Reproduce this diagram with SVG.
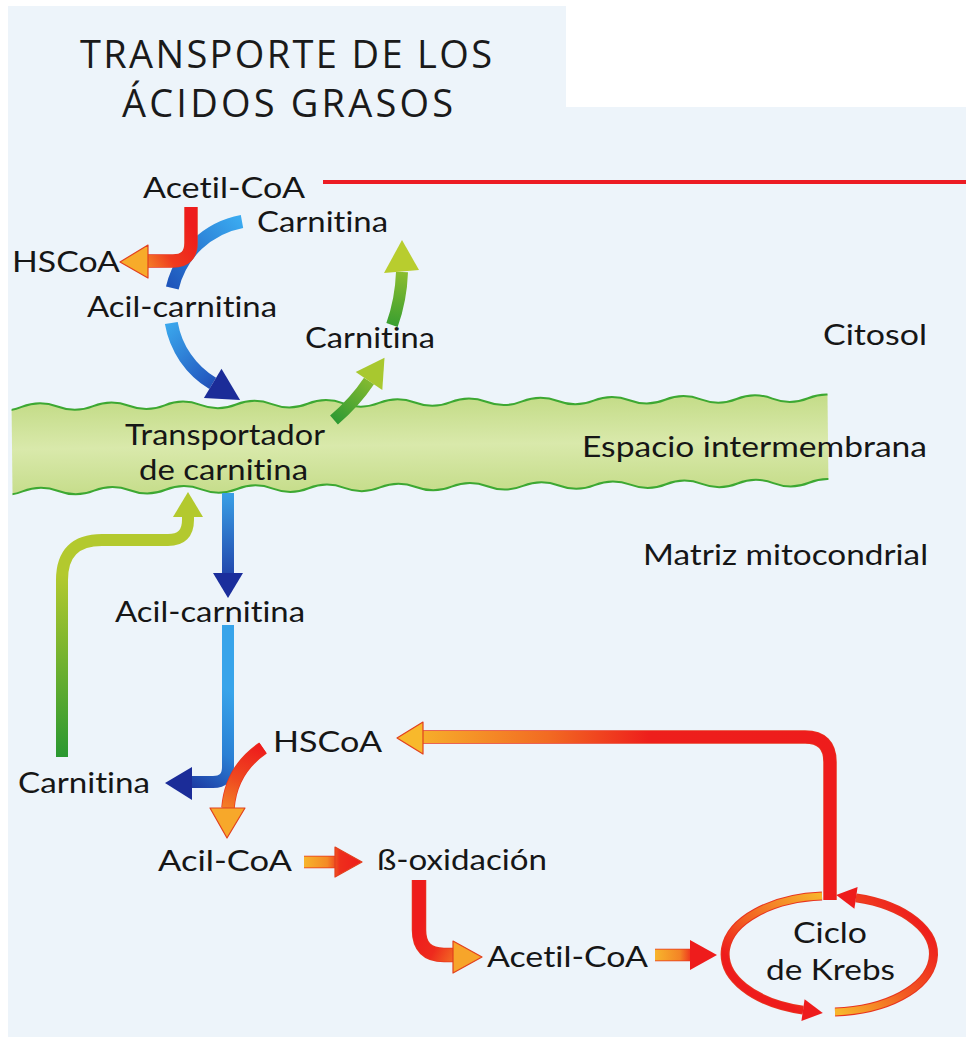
<svg xmlns="http://www.w3.org/2000/svg" width="966" height="1041" viewBox="0 0 966 1041">
<style>
.lbl{font-family:Lato,"Open Sans","Liberation Sans",sans-serif;font-size:29px;fill:#161616;font-variant-ligatures:none;font-feature-settings:"liga" 0,"clig" 0}
.title{font-family:"Open Sans","Liberation Sans",sans-serif;font-size:38px;fill:#1a1a1a}
.shaft{fill:none;stroke-linecap:butt;stroke-linejoin:round}
.rim{fill:none;stroke:#e8341e;stroke-linejoin:round}
.headO{stroke:#e2401e;stroke-width:1.2;stroke-linejoin:round}
</style>
<defs>
<linearGradient id="gA1" gradientUnits="userSpaceOnUse" x1="191" y1="225" x2="125" y2="262"><stop offset="0" stop-color="#ee1c1c"/><stop offset="0.45" stop-color="#ef3a1e"/><stop offset="1" stop-color="#f7ae2b"/></linearGradient>
<linearGradient id="gBU" gradientUnits="userSpaceOnUse" x1="242" y1="222" x2="172" y2="288"><stop offset="0" stop-color="#3aaaf0"/><stop offset="1" stop-color="#1e55bb"/></linearGradient>
<linearGradient id="gBL" gradientUnits="userSpaceOnUse" x1="171" y1="323" x2="240" y2="400"><stop offset="0" stop-color="#3aa6ec"/><stop offset="0.6" stop-color="#2560c4"/><stop offset="1" stop-color="#1b2c98"/></linearGradient>
<linearGradient id="gG1" gradientUnits="userSpaceOnUse" x1="334" y1="420" x2="384" y2="357"><stop offset="0" stop-color="#2e9a33"/><stop offset="1" stop-color="#b0ca2e"/></linearGradient>
<linearGradient id="gG2" gradientUnits="userSpaceOnUse" x1="392" y1="325" x2="402" y2="242"><stop offset="0" stop-color="#3a9f30"/><stop offset="1" stop-color="#b8cd2e"/></linearGradient>
<linearGradient id="gB2" gradientUnits="userSpaceOnUse" x1="228" y1="493" x2="228" y2="598"><stop offset="0" stop-color="#3aa0e6"/><stop offset="1" stop-color="#1b2e9c"/></linearGradient>
<linearGradient id="gB3" gradientUnits="userSpaceOnUse" x1="228" y1="690" x2="166" y2="782"><stop offset="0" stop-color="#38a4ea"/><stop offset="0.5" stop-color="#2a7fd4"/><stop offset="1" stop-color="#1b2c98"/></linearGradient>
<linearGradient id="gG3" gradientUnits="userSpaceOnUse" x1="62" y1="757" x2="62" y2="575"><stop offset="0" stop-color="#2a9830"/><stop offset="1" stop-color="#b3c92e"/></linearGradient>
<linearGradient id="gR7" gradientUnits="userSpaceOnUse" x1="263" y1="748" x2="227" y2="838"><stop offset="0" stop-color="#ee1c1c"/><stop offset="0.4" stop-color="#ef4a20"/><stop offset="1" stop-color="#f7ae2b"/></linearGradient>
<linearGradient id="gR8" gradientUnits="userSpaceOnUse" x1="304" y1="0" x2="362" y2="0"><stop offset="0" stop-color="#f7b52c"/><stop offset="0.4" stop-color="#f48a26"/><stop offset="0.62" stop-color="#ee2e1c"/><stop offset="1" stop-color="#ee1c1c"/></linearGradient>
<linearGradient id="gR9" gradientUnits="userSpaceOnUse" x1="419" y1="925" x2="482" y2="957"><stop offset="0" stop-color="#ee1c1c"/><stop offset="0.35" stop-color="#ee2a1d"/><stop offset="1" stop-color="#f7ae2b"/></linearGradient>
<linearGradient id="gR10" gradientUnits="userSpaceOnUse" x1="655" y1="0" x2="717" y2="0"><stop offset="0" stop-color="#f7b52c"/><stop offset="0.4" stop-color="#f48426"/><stop offset="0.6" stop-color="#ee2c1c"/><stop offset="1" stop-color="#ee1c1c"/></linearGradient>
<linearGradient id="gR11" gradientUnits="userSpaceOnUse" x1="831" y1="0" x2="397" y2="0"><stop offset="0" stop-color="#ee1c1c"/><stop offset="0.42" stop-color="#ee1f1c"/><stop offset="0.65" stop-color="#f26a22"/><stop offset="1" stop-color="#f8bb2c"/></linearGradient>
<linearGradient id="gKA" gradientUnits="userSpaceOnUse" x1="822" y1="896" x2="740" y2="1000"><stop offset="0" stop-color="#f7b52c"/><stop offset="0.5" stop-color="#f26022"/><stop offset="0.8" stop-color="#ee1c1c"/></linearGradient>
<linearGradient id="gKB" gradientUnits="userSpaceOnUse" x1="840" y1="1012" x2="930" y2="930"><stop offset="0" stop-color="#f7b52c"/><stop offset="0.5" stop-color="#f25a22"/><stop offset="1" stop-color="#ee1c1c"/></linearGradient>
<linearGradient id="gMem" x1="0" y1="0" x2="0" y2="1"><stop offset="0" stop-color="#c4dc88"/><stop offset="0.5" stop-color="#d9e9ab"/><stop offset="1" stop-color="#c6dd8b"/></linearGradient>
<clipPath id="memClip"><rect x="12" y="380" width="816" height="130"/></clipPath>
</defs>

<rect x="0" y="0" width="966" height="1041" fill="#ffffff"/>
<rect x="8" y="6" width="958" height="1031" fill="#edf4fa"/>
<rect x="566" y="0" width="400" height="107" fill="#ffffff"/>

<g id="title">
<text class="title" x="80" y="68" textLength="412" lengthAdjust="spacing">TRANSPORTE DE LOS</text>
<text class="title" x="122" y="117" textLength="331" lengthAdjust="spacing">ÁCIDOS GRASOS</text>
</g>

<g id="membrane" transform="rotate(-0.63 420 444)">
<g clip-path="url(#memClip)">
<path fill="url(#gMem)" d="M -49.4 402.5 Q -31.5 395.5 -13.65 402.5 T 22.1 402.5 T 57.85 402.5 T 93.6 402.5 T 129.35 402.5 T 165.1 402.5 T 200.85 402.5 T 236.6 402.5 T 272.35 402.5 T 308.1 402.5 T 343.85 402.5 T 379.6 402.5 T 415.35 402.5 T 451.1 402.5 T 486.85 402.5 T 522.6 402.5 T 558.35 402.5 T 594.1 402.5 T 629.85 402.5 T 665.6 402.5 T 701.35 402.5 T 737.1 402.5 T 772.85 402.5 T 808.6 402.5 T 844.35 402.5 L 844.35 487 Q 826.5 480 808.6 487 T 772.85 487 T 737.1 487 T 701.35 487 T 665.6 487 T 629.85 487 T 594.1 487 T 558.35 487 T 522.6 487 T 486.85 487 T 451.1 487 T 415.35 487 T 379.6 487 T 343.85 487 T 308.1 487 T 272.35 487 T 236.6 487 T 200.85 487 T 165.1 487 T 129.35 487 T 93.6 487 T 57.85 487 T 22.1 487 T -13.65 487 T -49.4 487 Z"/>
<path fill="none" stroke="#3da832" stroke-width="2" d="M -49.4 402.5 Q -31.5 395.5 -13.65 402.5 T 22.1 402.5 T 57.85 402.5 T 93.6 402.5 T 129.35 402.5 T 165.1 402.5 T 200.85 402.5 T 236.6 402.5 T 272.35 402.5 T 308.1 402.5 T 343.85 402.5 T 379.6 402.5 T 415.35 402.5 T 451.1 402.5 T 486.85 402.5 T 522.6 402.5 T 558.35 402.5 T 594.1 402.5 T 629.85 402.5 T 665.6 402.5 T 701.35 402.5 T 737.1 402.5 T 772.85 402.5 T 808.6 402.5 T 844.35 402.5"/>
<path fill="none" stroke="#3da832" stroke-width="2" d="M -49.4 487 Q -31.5 480 -13.65 487 T 22.1 487 T 57.85 487 T 93.6 487 T 129.35 487 T 165.1 487 T 200.85 487 T 236.6 487 T 272.35 487 T 308.1 487 T 343.85 487 T 379.6 487 T 415.35 487 T 451.1 487 T 486.85 487 T 522.6 487 T 558.35 487 T 594.1 487 T 629.85 487 T 665.6 487 T 701.35 487 T 737.1 487 T 772.85 487 T 808.6 487 T 844.35 487"/>
</g>
</g>
<g id="transportador">
<text class="lbl" x="125" y="445" textLength="200" lengthAdjust="spacingAndGlyphs">Transportador</text>
<text class="lbl" x="139" y="480" textLength="169" lengthAdjust="spacingAndGlyphs">de carnitina</text>
</g>

<g id="connectors">
<line x1="323" y1="182" x2="966" y2="182" stroke="#ec1c24" stroke-width="4"/>
<!-- upper blue arc -->
<path class="shaft" stroke="url(#gBU)" stroke-width="13" d="M 242 221.5 A 88 88 0 0 0 172.3 288"/>
<path class="shaft" stroke="url(#gBL)" stroke-width="13" d="M 171.3 323 A 88 88 0 0 0 212.7 383.4"/>
<polygon fill="#1b2c98" points="203.9,398 240.1,399.9 221.5,368.8"/>
<!-- Acetil-CoA -> HSCoA -->
<path class="rim" stroke-width="13.5" d="M 191 207 L 191 243 Q 191 261 173 261 L 147 261"/>
<path class="shaft" stroke="url(#gA1)" stroke-width="12" d="M 191 207 L 191 243 Q 191 261 173 261 L 147 261"/>
<polygon class="headO" fill="#f7ab2a" points="148,245 120,262 148,278"/>
<!-- green upper right -->
<path class="shaft" stroke="url(#gG1)" stroke-width="12" d="M 334 420 Q 355 402 369 381"/>
<polygon fill="#a8c82f" points="382.3,389.9 384.5,357.7 355.7,372.1"/>
<path class="shaft" stroke="url(#gG2)" stroke-width="12" d="M 392 325 Q 401 300 402 272"/>
<polygon fill="#b8cd2e" points="384,273 402,240 419,270"/>
<!-- blue through membrane -->
<path class="shaft" stroke="url(#gB2)" stroke-width="12" d="M 228 493 L 228 574"/>
<polygon fill="#1b2e9c" points="213,573 243,573 228,598"/>
<!-- lower blue -->
<path class="shaft" stroke="url(#gB3)" stroke-width="12" d="M 228 625 L 228 767 Q 228 782 213 782 L 191 782"/>
<polygon fill="#1b2c98" points="192,767 165,783 192,800"/>
<!-- green left -->
<path class="shaft" stroke="url(#gG3)" stroke-width="12" d="M 62 757 L 62 580 Q 62 540 102 540 L 168 540 Q 188 540 188 520 L 188 516"/>
<polygon fill="#b3c92e" points="173,517 188,492 203,517"/>
<!-- HSCoA -> Acil-CoA -->
<path class="rim" stroke-width="13.5" d="M 263 748 Q 231 770 228 808"/>
<path class="shaft" stroke="url(#gR7)" stroke-width="12" d="M 263 748 Q 231 770 228 808"/>
<polygon class="headO" fill="#f7a82a" points="210,808 245,808 227,838"/>
<!-- Acil-CoA -> beta -->
<path class="rim" stroke-width="12.5" d="M 304 862 L 336 862"/>
<path class="shaft" stroke="url(#gR8)" stroke-width="11" d="M 304 862 L 336 862"/>
<polygon class="headO" fill="url(#gR8)" points="335,847 362,862 335,877"/>
<!-- beta -> Acetil-CoA -->
<path class="rim" stroke-width="14.5" d="M 419 880 L 419 930 Q 419 955 444 955 L 454 955"/>
<path class="shaft" stroke="url(#gR9)" stroke-width="13" d="M 419 880 L 419 930 Q 419 955 444 955 L 454 955"/>
<polygon class="headO" fill="#f7a52a" points="453,941 482,957 453,973"/>
<!-- Acetil-CoA -> Krebs -->
<path class="rim" stroke-width="12.5" d="M 655 955 L 691 955"/>
<path class="shaft" stroke="url(#gR10)" stroke-width="11" d="M 655 955 L 691 955"/>
<polygon fill="#ee1c1c" points="690,940 717,955 690,970"/>
<!-- Krebs -> HSCoA -->
<path class="rim" stroke-width="13.5" d="M 830 900 L 830 762 Q 830 737 805 737 L 423 737"/>
<path class="shaft" stroke="url(#gR11)" stroke-width="12" d="M 830 900 L 830 762 Q 830 737 805 737 L 423 737"/>
<polygon class="headO" fill="#f8b92c" points="423,722 397,738 423,754"/>
</g>

<g id="krebs">
<path class="rim" stroke-width="9" d="M 822 896.1 A 104 58 0 0 0 803 1010.1"/>
<path class="shaft" stroke="url(#gKA)" stroke-width="7" d="M 822 896.1 A 104 58 0 0 0 803 1010.1"/>
<polygon fill="#ee1c1c" points="801.4,1021 822.8,1013 804.6,999.2"/>
<path class="rim" stroke-width="9" d="M 835 1011.9 A 104 58 0 0 0 856 897.9"/>
<path class="shaft" stroke="url(#gKB)" stroke-width="7" d="M 835 1011.9 A 104 58 0 0 0 856 897.9"/>
<polygon fill="#ee1c1c" points="857.6,887 836.2,895 854.4,908.8"/>
<text class="lbl" x="793" y="943" textLength="74" lengthAdjust="spacingAndGlyphs">Ciclo</text>
<text class="lbl" x="766" y="980" textLength="129" lengthAdjust="spacingAndGlyphs">de Krebs</text>
</g>

<g id="acetilcoa-top"><text class="lbl" x="143" y="198" textLength="162" lengthAdjust="spacingAndGlyphs">Acetil-CoA</text></g>
<g id="carnitina-top"><text class="lbl" x="257" y="232" textLength="131" lengthAdjust="spacingAndGlyphs">Carnitina</text></g>
<g id="hscoa-top"><text class="lbl" x="12" y="272" textLength="108" lengthAdjust="spacingAndGlyphs">HSCoA</text></g>
<g id="acilcarnitina-top"><text class="lbl" x="87" y="317" textLength="190" lengthAdjust="spacingAndGlyphs">Acil-carnitina</text></g>
<g id="carnitina-mid"><text class="lbl" x="305" y="348" textLength="130" lengthAdjust="spacingAndGlyphs">Carnitina</text></g>
<g id="citosol"><text class="lbl" x="823" y="345" textLength="104" lengthAdjust="spacingAndGlyphs">Citosol</text></g>
<g id="espacio"><text class="lbl" x="582" y="457" textLength="345" lengthAdjust="spacingAndGlyphs">Espacio intermembrana</text></g>
<g id="matriz"><text class="lbl" x="643" y="565" textLength="285" lengthAdjust="spacingAndGlyphs">Matriz mitocondrial</text></g>
<g id="acilcarnitina-low"><text class="lbl" x="115" y="622" textLength="190" lengthAdjust="spacingAndGlyphs">Acil-carnitina</text></g>
<g id="hscoa-low"><text class="lbl" x="273" y="752" textLength="109" lengthAdjust="spacingAndGlyphs">HSCoA</text></g>
<g id="carnitina-low"><text class="lbl" x="18" y="793" textLength="132" lengthAdjust="spacingAndGlyphs">Carnitina</text></g>
<g id="acilcoa"><text class="lbl" x="158" y="871" textLength="134" lengthAdjust="spacingAndGlyphs">Acil-CoA</text></g>
<g id="betaox"><text class="lbl" x="377" y="870" textLength="170" lengthAdjust="spacingAndGlyphs">ß-oxidación</text></g>
<g id="acetilcoa-low"><text class="lbl" x="487" y="967" textLength="161" lengthAdjust="spacingAndGlyphs">Acetil-CoA</text></g>
</svg>
